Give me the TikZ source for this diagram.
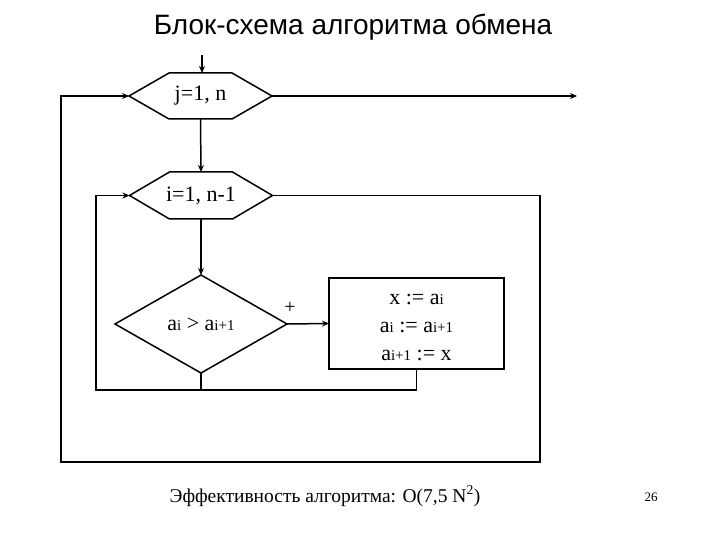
\documentclass[tikz,border=0pt]{standalone}
\usepackage{fontspec}
\setmainfont{Liberation Serif}
\newfontfamily\titlefont{Liberation Sans}
\usetikzlibrary{shapes.geometric,arrows.meta}
\newcommand{\smallidx}[1]{{\fontsize{15pt}{15pt}\selectfont #1}}
\newcommand{\hexagonof}[1]{%
  \draw[wire] (#1.west) -- ([xshift=40pt]#1.north west) -- ([xshift=-40pt]#1.north east)
    -- (#1.east) -- ([xshift=-40pt]#1.south east) -- ([xshift=40pt]#1.south west) -- cycle;}
\tikzset{
  hexbox/.style={rectangle, inner sep=0pt, outer sep=0pt,
    minimum width=143pt, minimum height=46pt,
    font=\fontsize{22pt}{22pt}\selectfont},
  flow/.style={line width=1.5pt, -{Stealth[length=7pt,width=6pt]}},
  wire/.style={line width=1.5pt, line join=miter}
}
\begin{document}
\begin{tikzpicture}[x=1pt, y=-1pt]
  \useasboundingbox (0,0) rectangle (720,540);
  %
  % Title
  \node[font=\titlefont\fontsize{28pt}{28pt}\selectfont] (title) at (353,27) {Блок-схема алгоритма обмена};
  %
  % Blocks
  \node[hexbox] (hexj) at (200.5,96) {j=1, n};
  \node[hexbox, minimum height=47pt] (hexi) at (201,195.5) {i=1, n-1};
  \hexagonof{hexj}
  \hexagonof{hexi}
  \node[diamond, draw, line width=1.5pt, minimum width=172pt, minimum height=98pt,
        inner sep=0pt, outer sep=0pt, font=\fontsize{22pt}{22pt}\selectfont] (cmp) at (201,324)
        {\raisebox{-3pt}{a\smallidx{i} > a\smallidx{i+1}}};
  \node[rectangle, draw, line width=1.5pt, minimum width=175pt, minimum height=91pt,
        outer sep=0pt] (swap) at (416.5,323.5) {};
  \node[align=center, font=\fontsize{22pt}{28pt}\selectfont, yshift=-4pt] (swaptext) at (swap.center)
        {x := a\smallidx{i}\\ a\smallidx{i} := a\smallidx{i+1}\\ a\smallidx{i+1} := x};
  %
  % Rails of the two loops
  \coordinate (start) at (202,55);
  \coordinate (exit) at (577,96);
  \coordinate (innerL) at (96,390);
  \coordinate (outerL) at (61,462);
  \coordinate (outerR) at (540,462);
  %
  % Connectors
  \draw[flow] (start) -- (start |- hexj.north);
  \draw[flow] (hexj.south) -- (hexi.north);
  \draw[flow] (hexj.east) -- (exit);
  \draw[flow] (hexi.south) -- (cmp.north);
  \draw[flow] (cmp.east) -- node[pos=0, xshift=3pt, yshift=16pt,
    font=\fontsize{20pt}{20pt}\selectfont] (plus) {+} (swap.west);
  \draw[wire] (cmp.south) -- (cmp.south |- innerL);
  \draw[flow] (swap.south) |- (innerL) |- (hexi.west);
  \draw[flow] (hexi.east) -| (outerR) -- (outerL) |- (hexj.west);
  %
  % Footer
  \node[font=\fontsize{19.5pt}{19.5pt}\selectfont] (eff) at (325,496) {Эффективность алгоритма: O(7,5 N\textsuperscript{2})};
  \node[font=\fontsize{13pt}{13pt}\selectfont] (page) at (651,497) {26};
\end{tikzpicture}
\end{document}
